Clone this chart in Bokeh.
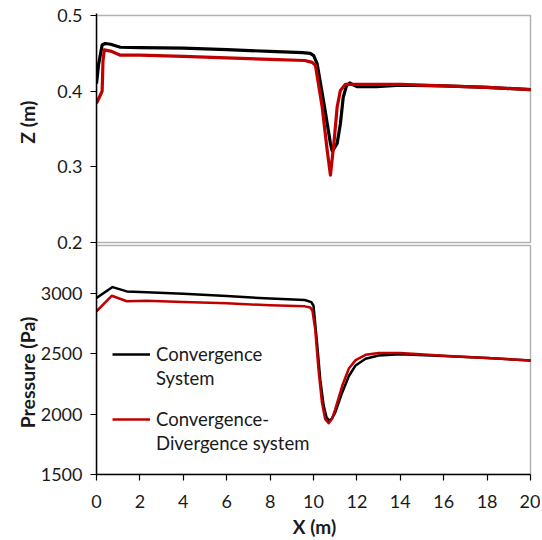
import math
from bokeh.plotting import figure
from bokeh.models import (Range1d, FixedTicker, Legend, LegendItem, LinearAxis,
                          BoxAnnotation)
from bokeh.embed import file_html
from bokeh.resources import INLINE

# ---------------- data ----------------
x_ticks = [0, 2, 4, 6, 8, 10, 12, 14, 16, 18, 20]
z_ticks = [0.2, 0.3, 0.4, 0.5]
p_ticks = [1500, 2000, 2500, 3000]
z_limits = (0.2, 0.5)
p_limits = (1500, 3400)
x_limits = (0, 20)

legend_lines_c = ["Convergence", "System"]
legend_lines_d = ["Convergence-", "Divergence system"]
x_title, z_title, p_title = "X (m)", "Z (m)", "Pressure (Pa)"

# Z (m) - convergence system
zc_x = [0.00, 0.10, 0.26, 0.40, 0.65, 1.10, 2.0, 4.0, 6.0, 8.0, 9.5, 9.85, 10.01, 10.17,
        10.48, 10.78, 10.86, 10.94, 11.09, 11.24, 11.37, 11.52, 11.67, 11.85, 12.0,
        12.9, 14.0, 16.0, 18.0, 20.0]
zc_y = [0.410, 0.436, 0.461, 0.463, 0.462, 0.458, 0.4575, 0.457, 0.455, 0.4525, 0.451,
        0.450, 0.447, 0.436, 0.384, 0.331, 0.321, 0.324, 0.331, 0.357, 0.392, 0.407,
        0.411, 0.408, 0.406, 0.406, 0.408, 0.407, 0.405, 0.402]

# Z (m) - convergence-divergence system
zd_x = [0.00, 0.18, 0.26, 0.30, 0.36, 0.65, 1.1, 2.0, 4.0, 6.0, 8.0, 9.6, 9.94, 10.09,
        10.4, 10.63, 10.78, 10.94, 11.09, 11.24, 11.47, 12.0, 14.0, 16.0, 18.0, 20.0]
zd_y = [0.384, 0.395, 0.400, 0.440, 0.4545, 0.453, 0.4475, 0.4475, 0.446, 0.444, 0.442,
        0.4405, 0.438, 0.434, 0.379, 0.322, 0.289, 0.331, 0.379, 0.401, 0.409, 0.409,
        0.409, 0.407, 0.405, 0.402]

# Pressure (Pa) - convergence system
pc_x = [0.0, 0.74, 1.4, 2.3, 4.0, 6.0, 8.0, 9.6, 9.9, 10.0, 10.15, 10.31, 10.47, 10.6,
        10.73, 10.85, 11.0, 11.32, 11.63, 11.94, 12.4, 13.0, 14.0, 16.0, 18.0, 20.0]
pc_y = [2964, 3055, 3019, 3012, 3000, 2980, 2960, 2948, 2930, 2900, 2620, 2289, 2069, 1975,
        1945, 1965, 2014, 2179, 2317, 2405, 2460, 2488, 2498, 2484, 2466, 2446]

# Pressure (Pa) - convergence-divergence system
pd_x = [0.0, 0.7, 1.4, 2.3, 4.0, 6.0, 8.0, 9.6, 9.85, 9.95, 10.08, 10.23, 10.39, 10.54,
        10.7, 10.85, 11.0, 11.32, 11.63, 11.94, 12.4, 13.0, 14.0, 16.0, 18.0, 20.0]
pd_y = [2854, 2983, 2937, 2942, 2932, 2920, 2904, 2895, 2885, 2860, 2702, 2372, 2097, 1959,
        1926, 1960, 2041, 2234, 2380, 2449, 2493, 2508, 2508, 2485, 2466, 2446]

# ---------------- layout (pixels) ----------------
FONT = "Lato"
TXT = "#1a1a1a"
BLACK = "#000000"
RED = "#C00000"

W, H = 540, 540
BL, BR, BT, BB = 96, 8, 13, 64
FW = W - BL - BR            # frame width  (436)
FH = H - BT - BB            # frame height (463)
PAD = 2                     # spare pixels above / right of the panels inside the frame
TOP_PANEL_H = 228           # top panel height
GAP = 3                     # gap between panels
FRAME_BOTTOM = H - BB       # page y of the frame bottom

kz = TOP_PANEL_H / (z_limits[1] - z_limits[0])
kp = (FH - PAD - TOP_PANEL_H - GAP) / (p_limits[1] - p_limits[0])
kx = (FW - PAD) / (x_limits[1] - x_limits[0])

p_range = Range1d(p_limits[0], p_limits[0] + FH / kp)
z_range = Range1d(z_limits[1] - (FH - PAD) / kz, z_limits[1] + PAD / kz)
x_range = Range1d(x_limits[0], x_limits[1] + PAD / kx)


def z_to_p(z):
    py = PAD + (z_limits[1] - z) * kz          # pixels below the frame top
    return p_limits[0] + (FH - py) / kp


def page_y_to_p(y):
    return p_limits[0] + (FRAME_BOTTOM - y) / kp


p = figure(width=W, height=H, x_range=x_range, y_range=p_range,
           x_axis_location=None, y_axis_location=None,
           output_backend="svg", toolbar_location=None,
           min_border_left=BL, min_border_right=BR, min_border_top=BT, min_border_bottom=BB)
p.extra_y_ranges = {"z": z_range}
p.xgrid.visible = False
p.ygrid.visible = False
p.outline_line_alpha = 0


def style_axis(ax, tick_standoff):
    ax.major_label_text_font = FONT
    ax.major_label_text_font_size = "18px"
    ax.major_label_text_color = TXT
    ax.major_label_standoff = tick_standoff
    ax.major_tick_out = 6
    ax.major_tick_in = 0
    ax.minor_tick_out = 0
    ax.minor_tick_in = 0
    ax.axis_line_color = BLACK
    ax.axis_line_width = 1.5
    ax.major_tick_line_color = BLACK
    ax.major_tick_line_width = 1.2


# combined left axis: Z ticks (top panel) and pressure ticks (bottom panel)
z_tick_pos = [z_to_p(z) for z in z_ticks]
left_ticks = [float(t) for t in p_ticks] + z_tick_pos
left_labels = {float(t): str(t) for t in p_ticks}
left_labels.update({pos: f"{z:.1f}" for pos, z in zip(z_tick_pos, z_ticks)})
yax = LinearAxis(ticker=FixedTicker(ticks=left_ticks), major_label_overrides=left_labels)
style_axis(yax, 8)
p.add_layout(yax, "left")

# outer left "axis" that only carries the two rotated axis titles
# (a rotated label ends at its tick, so the tick sits half a text-length above the centre)
title_pos = [page_y_to_p(100.5), page_y_to_p(317.5)]
tax = LinearAxis(ticker=FixedTicker(ticks=title_pos),
                 major_label_overrides={title_pos[0]: z_title, title_pos[1]: p_title},
                 major_label_orientation=math.pi / 2,
                 major_label_text_font=FONT, major_label_text_font_style="bold",
                 major_label_text_font_size="19.5px", major_label_text_color=TXT,
                 major_label_standoff=10, major_tick_out=0, major_tick_in=0,
                 minor_tick_out=0, minor_tick_in=0,
                 axis_line_alpha=0, major_tick_line_alpha=0, minor_tick_line_alpha=0)
p.add_layout(tax, "left")

# bottom x axis
xax = LinearAxis(ticker=FixedTicker(ticks=x_ticks), bounds=x_limits,
                 axis_label=x_title, axis_label_text_font=FONT,
                 axis_label_text_font_style="bold", axis_label_text_font_size="19px",
                 axis_label_text_color=TXT, axis_label_standoff=4)
style_axis(xax, 14)
p.add_layout(xax, "below")

# panel frames
p.add_layout(BoxAnnotation(left=x_limits[0], right=x_limits[1], bottom=z_limits[0],
                           top=z_limits[1], y_range_name="z", fill_alpha=0,
                           line_color=BLACK, line_width=1.5))
p.add_layout(BoxAnnotation(left=x_limits[0], right=x_limits[1], bottom=p_limits[0],
                           top=p_limits[1], fill_alpha=0,
                           line_color=BLACK, line_width=1.5))

# data lines
p.line(zc_x, zc_y, y_range_name="z", line_color=BLACK, line_width=3.2, line_join="round")
p.line(zd_x, zd_y, y_range_name="z", line_color=RED, line_width=3.2, line_join="round")
r_c = p.line(pc_x, pc_y, line_color=BLACK, line_width=2.5, line_join="round")
r_d = p.line(pd_x, pd_y, line_color=RED, line_width=2.5, line_join="round")
r_blank = p.line([], [], line_alpha=0)


def make_legend(lines, renderer, y):
    return Legend(items=[LegendItem(label=lines[0], renderers=[renderer]),
                         LegendItem(label=lines[1], renderers=[r_blank])],
                  location=(16, y), orientation="vertical",
                  label_text_font=FONT, label_text_font_size="18.5px", label_text_color=TXT,
                  glyph_width=38, glyph_height=18, label_standoff=6, spacing=2,
                  padding=0, margin=0, border_line_alpha=0, background_fill_alpha=0)


p.add_layout(make_legend(legend_lines_c, r_c, 85))
p.add_layout(make_legend(legend_lines_d, r_d, 20))

open("out.html", "w").write(file_html(p, INLINE))
